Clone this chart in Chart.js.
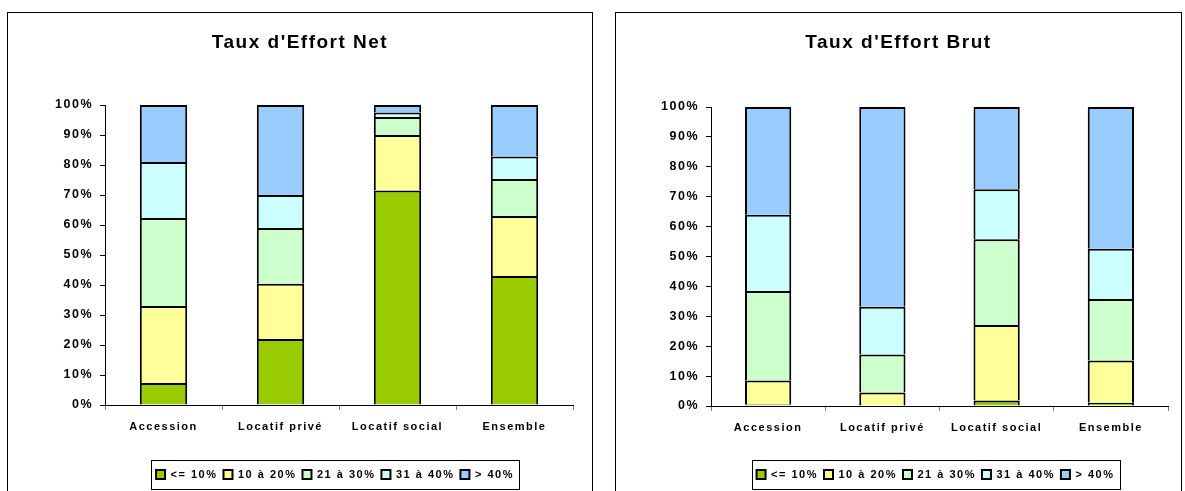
<!DOCTYPE html>
<html>
<head>
<meta charset="utf-8">
<script src="https://cdn.jsdelivr.net/npm/chart.js@4/dist/chart.umd.min.js"></script>
<style>
  body { margin: 0; background: #fff; width: 1185px; height: 491px; overflow: hidden; position: relative; }
  .panel { position: absolute; top: 12px; height: 500px; border: 1px solid #000; background: #fff; }
  .panel canvas { position: absolute; left: 0; top: 0; }
</style>
</head>
<body>
<div class="panel" style="left:7px; width:584px;"><canvas id="netChart" width="584" height="478"></canvas></div>
<div class="panel" style="left:615px; width:565px;"><canvas id="brutChart" width="565" height="478"></canvas></div>
<script>
const categories = ['Accession', 'Locatif privé', 'Locatif social', 'Ensemble'];
const classes = ['<= 10%', '10 à 20%', '21 à 30%', '31 à 40%', '> 40%'];
const colors = ['#99CC00', '#FFFF99', '#CCFFCC', '#CCFFFF', '#99CCFF'];
const yTicks = [0, 10, 20, 30, 40, 50, 60, 70, 80, 90, 100];

// Taux d'effort net, % per class (bottom to top)
const netLe10 = [7.3, 22, 71.5, 43];
const net10to20 = [25.7, 18.4, 18.5, 20];
const net21to30 = [29.3, 18.6, 6, 12.3];
const net31to40 = [18.7, 11, 1.5, 7.5];
const netGt40 = [19, 30, 2.5, 17.2];

// Taux d'effort brut
const brutLe10 = [0.5, 0, 1.8, 1.1];
const brut10to20 = [8, 4.5, 25.3, 14.1];
const brut21to30 = [30, 12.7, 28.7, 20.6];
const brut31to40 = [25.5, 16, 16.7, 16.8];
const brutGt40 = [36, 66.8, 27.5, 47.4];

const FONT = "'Liberation Sans', Arial, sans-serif";

// spaced-out lettering like the original spreadsheet export + boxed legend
const excelLook = {
  id: 'excelLook',
  beforeUpdate(chart) { chart.ctx.letterSpacing = '1.5px'; },
  beforeDraw(chart) {
    chart.ctx.letterSpacing = '1.5px';
    // title over the whole panel, legend under the plot area
    chart.titleBlock.left = 0;
    chart.titleBlock.right = chart.width;
    chart.legend.left = chart.chartArea.left - 4;
    chart.legend.right = chart.chartArea.right - 4;
  },
  afterDraw(chart) {
    const lg = chart.legend;
    const pad = lg.options.labels.padding;
    const rowW = lg.lineWidths[0];
    const x0 = (lg.left + pad + lg.right - rowW) / 2;
    const itemTop = lg.top + pad;
    const ctx = chart.ctx;
    ctx.save();
    ctx.strokeStyle = '#000';
    ctx.lineWidth = 1;
    ctx.strokeRect(Math.round(x0 - 5) + 0.5, Math.round(itemTop - 9) + 0.5, Math.round(rowW - pad + 10), 29);
    ctx.restore();
  }
};

function makeChart(id, title, series, opts) {
  return new Chart(document.getElementById(id), {
    type: 'bar',
    data: {
      labels: categories,
      datasets: series.map((s, i) => ({
        label: classes[i],
        data: s,
        backgroundColor: colors[i],
        borderColor: '#000',
        borderWidth: 2,
        borderSkipped: 'start',
        barPercentage: 0.81,
        categoryPercentage: 0.5
      }))
    },
    options: {
      responsive: false,
      animation: false,
      layout: { padding: { left: 0, right: opts.right, top: 0, bottom: 1 } },
      plugins: {
        title: {
          display: true,
          text: title,
          color: '#000',
          font: { family: FONT, size: 19, weight: 'bold' },
          padding: { top: 18, bottom: opts.titleBottom }
        },
        legend: {
          position: 'bottom',
          labels: {
            color: '#000',
            font: { family: FONT, size: 11, weight: 'bold' },
            boxWidth: 9,
            boxHeight: 9,
            padding: 6
          }
        },
        tooltip: { enabled: false }
      },
      scales: {
        x: {
          stacked: true,
          grid: { offset: true, drawOnChartArea: false, tickLength: 5, color: '#808080' },
          border: { color: '#000', width: 1 },
          ticks: { color: '#000', padding: 10, maxRotation: 0, font: { family: FONT, size: 11, weight: 'bold' } },
          afterFit: (s) => { s.height = opts.xHeight; }
        },
        y: {
          stacked: true,
          min: 0,
          max: 100,
          afterBuildTicks: (s) => { s.ticks = yTicks.map(v => ({ value: v })); },
          grid: { drawOnChartArea: false, tickLength: 5, color: '#000' },
          border: { color: '#000', width: 1 },
          ticks: { color: '#000', padding: 7, callback: v => v + '%', font: { family: FONT, size: 12.5, weight: 'bold' } },
          afterFit: (s) => { s.width = opts.yWidth; }
        }
      }
    },
    plugins: [excelLook]
  });
}

makeChart('netChart', "Taux d'Effort Net",
  [netLe10, net10to20, net21to30, net31to40, netGt40],
  { right: 19, yWidth: 97, xHeight: 58, titleBottom: 51.2 });

makeChart('brutChart', "Taux d'Effort Brut",
  [brutLe10, brut10to20, brut21to30, brut31to40, brutGt40],
  { right: 13, yWidth: 95, xHeight: 57, titleBottom: 53.2 });
</script>
</body>
</html>
